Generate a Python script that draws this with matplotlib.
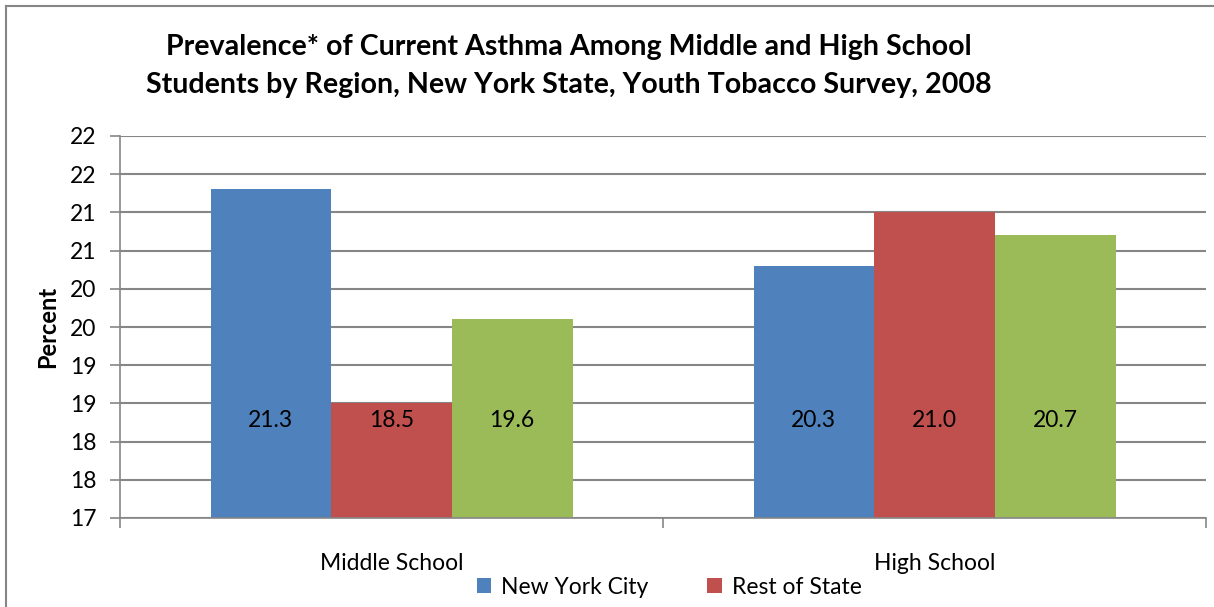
import matplotlib.pyplot as plt
import numpy as np
from matplotlib.ticker import FuncFormatter, MultipleLocator
from matplotlib.lines import Line2D

plt.rcParams['font.family'] = ['Lato', 'DejaVu Sans']

categories = ['Middle School', 'High School']
series_names = ['New York City', 'Rest of State', '']
nyc = [21.3, 20.3]
rest = [18.5, 21.0]
other = [19.6, 20.7]
colors = ['#4F81BD', '#C0504D', '#9BBB59']

fig = plt.figure(figsize=(12.14, 6.07), dpi=100)
ax = fig.add_axes([120 / 1214, 1 - 518 / 607, (1206 - 120) / 1214, (518 - 136) / 607])

x = np.arange(len(categories))
width = 1 / 4.5
values = [nyc, rest, other]
handles = []
for i, vals in enumerate(values):
    bars = ax.bar(x + (i - 1) * width, [v - 17 for v in vals], width, bottom=17,
                  color=colors[i], zorder=2)
    if series_names[i]:
        handles.append((bars, series_names[i]))
    for xi, v in zip(x + (i - 1) * width, vals):
        ax.text(xi, 18.27, '%.1f' % v, ha='center', va='center', fontsize=16.5, zorder=3)

ax.set_xlim(-0.5, 1.5)
ax.set_ylim(17, 22)
ax.yaxis.set_major_locator(MultipleLocator(0.5))
ax.yaxis.set_major_formatter(FuncFormatter(lambda v, p: '%d' % int(v + 0.5)))
ax.grid(axis='y', color='#868686', linewidth=1.5, zorder=0)
ax.set_axisbelow(True)

ax.set_xticks([-0.5, 0.5, 1.5])
ax.set_xticklabels([])
ax.set_xticks(x, minor=True)
ax.set_xticklabels(categories, minor=True, fontsize=16.5)
ax.tick_params(axis='x', which='minor', length=0, pad=25)
ax.tick_params(axis='x', which='major', length=7, color='#868686', width=1.2)
ax.tick_params(axis='y', length=7, color='#868686', width=1.2, labelsize=16.5, pad=10)

for s in ['top', 'right']:
    ax.spines[s].set_visible(False)
for s in ['left', 'bottom']:
    ax.spines[s].set_color('#868686')
    ax.spines[s].set_linewidth(1.2)

ax.set_ylabel('Percent', fontsize=17, fontweight='bold', labelpad=8)

fig.text(569 / 1214, 1 - 66 / 607,
         'Prevalence* of Current Asthma Among Middle and High School\n'
         'Students by Region, New York State, Youth Tobacco Survey, 2008',
         ha='center', va='center', fontsize=20.6, fontweight='bold', linespacing=1.6)

fig.legend([h for h, n in handles], [n for h, n in handles], loc='center',
           bbox_to_anchor=(669 / 1214, 1 - 587 / 607), ncol=2, frameon=False,
           fontsize=16.5, handlelength=0.65, handleheight=0.65, columnspacing=2.6,
           handletextpad=0.4, borderpad=0)

# chart border (top and left visible)
fig.add_artist(Line2D([6 / 1214, 1], [1 - 6 / 607, 1 - 6 / 607], color='#868686', linewidth=1.5))
fig.add_artist(Line2D([6 / 1214, 6 / 1214], [0, 1 - 6 / 607], color='#868686', linewidth=1.5))

fig.savefig('out.png', dpi=100)
